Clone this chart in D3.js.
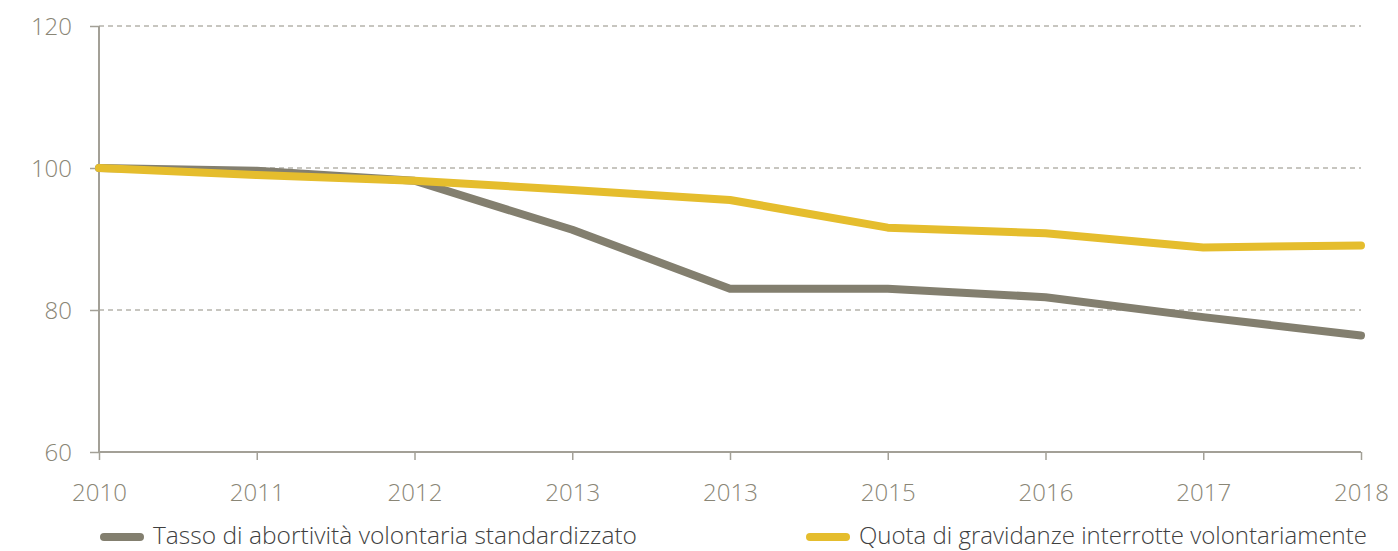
<!DOCTYPE html>
<html>
<head>
<meta charset="utf-8">
<script src="https://cdn.jsdelivr.net/npm/d3@7"></script>
<style>
  body{margin:0;background:#fff;}
  svg{display:block;font-family:"Open Sans",sans-serif;font-weight:300;}
  .tick text{fill:#8a8676;}
</style>
</head>
<body>
<svg id="chart" width="1398" height="551"></svg>
<script>
'use strict';

// anni (il quinto "2013" è così nell'originale)
var years=['2010','2011','2012','2013','2013 ','2015','2016','2017','2018'];
var yearLabels=['2010','2011','2012','2013','2013','2015','2016','2017','2018'];
var tasso=[100,99.6,98.2,91.3,83,83,81.8,79,76.4];
var quota=[100,99.0,98.2,96.9,95.5,91.6,90.8,88.8,89.1];
var yTicks=[60,80,100,120];
var seriesNames=['Tasso di abortività volontaria standardizzato','Quota di gravidanze interrotte volontariamente'];
var seriesColors=['#837f6f','#e5bd2d'];

var svg=d3.select('#chart')
  , m={left:99,right:1361,top:26,bottom:452}
  , x=d3.scalePoint().domain(years).range([m.left,m.right])
  , y=d3.scaleLinear().domain([60,120]).range([m.bottom,m.top]);

// griglia tratteggiata
svg.append('g').selectAll('line')
    .data(yTicks.filter(function(d){return d>60;}))
    .enter().append('line')
    .attr('x1',m.left).attr('x2',m.right)
    .attr('y1',function(d){return y(d);})
    .attr('y2',function(d){return y(d);})
    .attr('stroke','#8f8c80')
    .attr('stroke-width',1)
    .attr('stroke-dasharray','5,4');

var yAxis=svg.append('g')
    .attr('transform','translate('+m.left+',0)')
    .call(d3.axisLeft(y).tickValues(yTicks).tickSize(9).tickPadding(18));
var xAxis=svg.append('g')
    .attr('transform','translate(0,'+m.bottom+')')
    .call(d3.axisBottom(x).tickSize(8).tickPadding(24)
        .tickFormat(function(d,i){return yearLabels[i];}));

[yAxis,xAxis].forEach(function(a){
    a.select('.domain').attr('stroke','#a3a097').attr('stroke-width',2);
    a.selectAll('.tick line').attr('stroke','#a3a097').attr('stroke-width',1.5);
    a.selectAll('.tick text').attr('font-size',24).attr('font-family','"Open Sans",sans-serif').attr('font-weight',300);
});
yAxis.select('.domain').attr('d','M0,'+m.bottom+'V'+m.top);
xAxis.select('.domain').attr('d','M'+m.left+',0H'+m.right);
yAxis.selectAll('.tick text').attr('dy','0.35em');

var line=d3.line()
    .x(function(d,i){return x(years[i]);})
    .y(function(d){return y(d);});

[tasso,quota].forEach(function(s,i){
    svg.append('path')
        .datum(s)
        .attr('d',line)
        .attr('fill','none')
        .attr('stroke',seriesColors[i])
        .attr('stroke-width',8)
        .attr('stroke-linecap','round')
        .attr('stroke-linejoin','round');
});

// legenda
var legX=[104,810], legW=[484,508];
seriesNames.forEach(function(n,i){
    var g=svg.append('g').attr('transform','translate('+legX[i]+',537)');
    g.append('line')
        .attr('x1',0).attr('x2',36)
        .attr('stroke',seriesColors[i])
        .attr('stroke-width',8)
        .attr('stroke-linecap','round');
    g.append('text')
        .attr('x',49).attr('y',7)
        .attr('font-size',23)
        .attr('fill','#3f3f3f')
        .attr('textLength',legW[i])
        .attr('lengthAdjust','spacingAndGlyphs')
        .text(n);
});
</script>
</body>
</html>
